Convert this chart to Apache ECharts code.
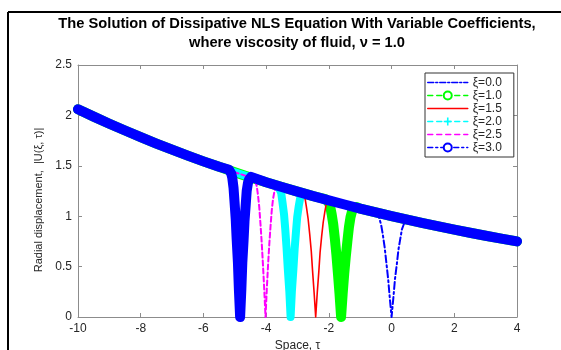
<!DOCTYPE html>
<html>
<head>
<meta charset="utf-8">
<script src="https://cdn.jsdelivr.net/npm/echarts@6/dist/echarts.min.js"></script>
<style>html,body{margin:0;padding:0;background:#fff;}#c{width:561px;height:350px;}</style>
</head>
<body>
<div id="c"></div>
<script>
// ---- data ----
const seriesNames = ['ξ=0.0', 'ξ=1.0', 'ξ=1.5', 'ξ=2.0', 'ξ=2.5', 'ξ=3.0'];
const xTicks = [-10, -8, -6, -4, -2, 0, 2, 4];
const yTicks = [0, 0.5, 1, 1.5, 2, 2.5];
// common background |U| away from the dips
const background = [
  [-10, 2.061], [-9.5, 1.988], [-9, 1.917], [-8.5, 1.850], [-8, 1.784], [-7.5, 1.721], [-7, 1.660],
  [-6.5, 1.601], [-6, 1.544], [-5.5, 1.490], [-5, 1.436], [-4.5, 1.385], [-4, 1.337], [-3.5, 1.289],
  [-3, 1.244], [-2.5, 1.199], [-2, 1.157], [-1.5, 1.116], [-1, 1.076], [-0.5, 1.038], [0, 1.001],
  [0.5, 0.966], [1, 0.932], [1.5, 0.899], [2, 0.867], [2.5, 0.836], [3, 0.806], [3.5, 0.778], [4, 0.750]
];
// dark-soliton dips of each curve
const dipXi00 = [[-0.55,1.04],[-0.44,1.01],[-0.39,0.98],[-0.33,0.91],[-0.28,0.82],[-0.22,0.69],[-0.17,0.55],[-0.11,0.38],[-0.06,0.20],[0,0],[0.06,0.20],[0.11,0.38],[0.17,0.53],[0.22,0.67],[0.28,0.78],[0.33,0.87],[0.39,0.92],[0.44,0.95],[0.55,0.96]];
const dipXi10 = [[-2.11,1.17],[-2.01,1.14],[-1.96,1.10],[-1.91,1.02],[-1.86,0.92],[-1.81,0.78],[-1.76,0.62],[-1.71,0.43],[-1.66,0.23],[-1.61,0],[-1.56,0.23],[-1.51,0.43],[-1.46,0.60],[-1.41,0.75],[-1.36,0.89],[-1.31,0.99],[-1.26,1.05],[-1.21,1.08],[-1.11,1.09]];
const dipXi15 = [[-2.90,1.23],[-2.80,1.20],[-2.75,1.16],[-2.71,1.08],[-2.66,0.97],[-2.61,0.82],[-2.56,0.65],[-2.52,0.46],[-2.47,0.24],[-2.42,0],[-2.37,0.24],[-2.32,0.45],[-2.28,0.64],[-2.23,0.80],[-2.18,0.94],[-2.13,1.04],[-2.09,1.11],[-2.04,1.14],[-1.94,1.15]];
const dipXi20 = [[-3.65,1.30],[-3.56,1.26],[-3.52,1.23],[-3.48,1.14],[-3.43,1.02],[-3.39,0.87],[-3.35,0.69],[-3.31,0.48],[-3.26,0.25],[-3.22,0],[-3.18,0.25],[-3.13,0.48],[-3.09,0.68],[-3.05,0.84],[-3.01,0.99],[-2.96,1.10],[-2.92,1.17],[-2.88,1.21],[-2.79,1.22]];
const dipXi25 = [[-4.42,1.38],[-4.34,1.34],[-4.30,1.30],[-4.26,1.21],[-4.22,1.09],[-4.18,0.92],[-4.14,0.73],[-4.10,0.51],[-4.06,0.27],[-4.02,0],[-3.98,0.27],[-3.94,0.51],[-3.90,0.72],[-3.86,0.90],[-3.82,1.06],[-3.78,1.17],[-3.74,1.24],[-3.70,1.28],[-3.62,1.30]];
const dipXi30 = [[-5.18,1.46],[-5.11,1.42],[-5.08,1.38],[-5.04,1.28],[-5.01,1.15],[-4.97,0.97],[-4.94,0.77],[-4.90,0.54],[-4.87,0.28],[-4.83,0],[-4.79,0.28],[-4.76,0.54],[-4.72,0.76],[-4.69,0.95],[-4.65,1.12],[-4.62,1.25],[-4.58,1.33],[-4.55,1.36],[-4.48,1.39]];

// ---- build ----
function withBackground(dip) {
  const lo = dip[0][0], hi = dip[dip.length - 1][0];
  const pts = background.filter(p => p[0] < lo || p[0] > hi).concat(dip);
  pts.sort((a, b) => a[0] - b[0]);
  return pts;
}
const FONT = '"Liberation Sans", Arial, Helvetica, sans-serif';
const TXT = '#262626';
const AX = '#8c8c8c';
const PLUS = 'path://M4,0H6V4H10V6H6V10H4V6H0V4H4Z';

const styles = [
  {dip: dipXi00, color: '#0000ff', width: 2,  type: [7, 3, 2, 3], symbol: 'none',        legType: [6, 2, 2, 2], hideSym: true},
  {dip: dipXi10, color: '#00ff00', width: 10, type: 'solid',      symbol: 'emptyCircle', legType: [5, 4],       hideSym: false},
  {dip: dipXi15, color: '#ff0000', width: 1.6, type: 'solid',     symbol: 'none',        legType: 'solid',      hideSym: true},
  {dip: dipXi20, color: '#00ffff', width: 8,  type: 'solid',      symbol: PLUS,          legType: [5, 4],       hideSym: false},
  {dip: dipXi25, color: '#ff00ff', width: 2,  type: [5, 3],       symbol: 'none',        legType: [5, 4],       hideSym: true},
  {dip: dipXi30, color: '#0000ff', width: 10, type: 'solid',      symbol: 'emptyCircle', legType: [5, 3, 2, 3], hideSym: false}
];

const series = styles.map((s, i) => ({
  name: seriesNames[i],
  type: 'line',
  data: withBackground(s.dip),
  symbol: s.symbol,
  symbolSize: 8,
  showSymbol: false,
  clip: false,
  animation: false,
  emphasis: {disabled: true},
  itemStyle: {color: s.color},
  lineStyle: {color: s.color, width: s.width, type: s.type, cap: 'round', join: 'round'}
}));

const legendData = styles.map((s, i) => ({
  name: seriesNames[i],
  lineStyle: {width: 1.5, type: s.legType},
  itemStyle: s.hideSym ? {opacity: 0} : {}
}));

const chart = echarts.init(document.getElementById('c'), null, {renderer: 'canvas'});
chart.setOption({
  animation: false,
  backgroundColor: '#ffffff',
  title: {
    text: 'The Solution of Dissipative NLS Equation With Variable Coefficients,\nwhere viscosity of fluid, ν = 1.0',
    left: 292, top: 9, textAlign: 'center',
    textStyle: {fontSize: 14.7, fontWeight: 'bold', color: '#000', fontFamily: FONT, lineHeight: 19}
  },
  legend: {
    orient: 'vertical', left: 425, top: 73,
    padding: [3, 12, 3, 2], itemWidth: 40, itemHeight: 10, itemGap: 0,
    backgroundColor: '#fff', borderColor: '#333', borderWidth: 1,
    textStyle: {fontSize: 12, color: TXT, fontFamily: FONT, lineHeight: 13},
    selectedMode: false,
    data: legendData
  },
  grid: {left: 78, right: 44, top: 65, bottom: 33, outerBoundsMode: 'none'},
  xAxis: [{
    type: 'value', min: xTicks[0], max: xTicks[xTicks.length - 1], interval: 2,
    name: 'Space, τ', nameLocation: 'middle', nameGap: 19,
    nameTextStyle: {fontSize: 12, color: TXT, fontFamily: FONT},
    axisLine: {show: true, onZero: false, lineStyle: {color: AX, width: 1}},
    axisTick: {show: true, inside: true, length: 4, lineStyle: {color: AX}},
    axisLabel: {fontSize: 12, color: TXT, fontFamily: FONT, margin: 6},
    splitLine: {show: false}
  }, {
    type: 'value', position: 'top', min: xTicks[0], max: xTicks[xTicks.length - 1], interval: 2,
    axisLine: {show: true, onZero: false, lineStyle: {color: AX, width: 1}},
    axisTick: {show: true, inside: true, length: 4, lineStyle: {color: AX}},
    axisLabel: {show: false}, splitLine: {show: false}
  }],
  yAxis: [{
    type: 'value', min: yTicks[0], max: yTicks[yTicks.length - 1], interval: 0.5,
    name: 'Radial displacement,  |U(ξ, τ)|', nameLocation: 'middle', nameGap: 22,
    nameTextStyle: {fontSize: 11, color: TXT, fontFamily: FONT, padding: [0, 18, 0, 0]},
    axisLine: {show: true, onZero: false, lineStyle: {color: AX, width: 1}},
    axisTick: {show: true, inside: true, length: 4, lineStyle: {color: AX}},
    axisLabel: {fontSize: 12, color: TXT, fontFamily: FONT, margin: 6},
    splitLine: {show: false}
  }, {
    type: 'value', position: 'right', min: yTicks[0], max: yTicks[yTicks.length - 1], interval: 0.5,
    axisLine: {show: true, onZero: false, lineStyle: {color: AX, width: 1}},
    axisTick: {show: true, inside: true, length: 4, lineStyle: {color: AX}},
    axisLabel: {show: false}, splitLine: {show: false}
  }],
  graphic: [
    {type: 'line', shape: {x1: 8, y1: 12, x2: 8, y2: 350}, style: {stroke: '#000', lineWidth: 2}, silent: true},
    {type: 'line', shape: {x1: 8, y1: 12, x2: 561, y2: 12}, style: {stroke: '#000', lineWidth: 2}, silent: true}
  ],
  series: series
});
</script>
</body>
</html>
